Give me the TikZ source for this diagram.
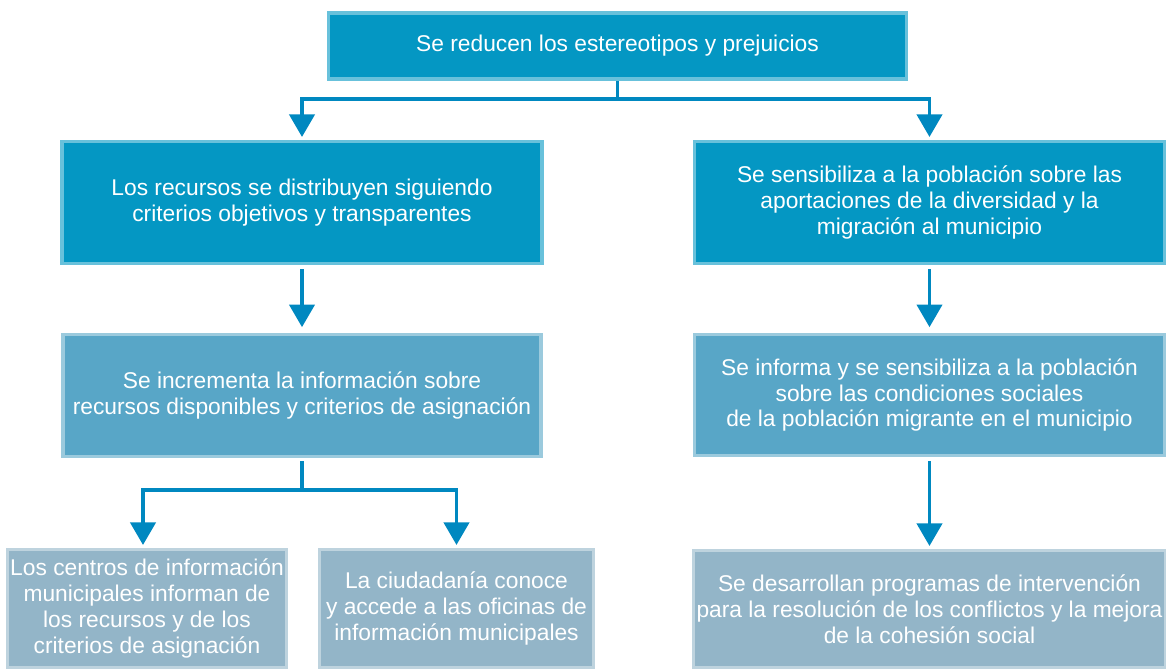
\documentclass[tikz,border=0pt]{standalone}
\usepackage{xcolor}
\usepackage{fontspec}
\setmainfont{Liberation Sans}
\usepackage{tikz}
\usetikzlibrary{positioning,arrows.meta}

\definecolor{boxdark}{HTML}{0497C3}
\definecolor{boxmid}{HTML}{58A6C7}
\definecolor{boxlight}{HTML}{93B5C8}
\definecolor{flowblue}{HTML}{0088C0}

\begin{document}
\begin{tikzpicture}[
				x=0.025cm, y=-0.025cm,
				darknode/.style={rectangle, fill=boxdark, draw=boxdark!60!white, line width=2.5pt, inner sep=2pt, text=white, align=center, font=\fontsize{16.2}{18.4}\selectfont},
				midnode/.style={darknode, fill=boxmid, draw=boxmid!60!white},
				lightnode/.style={darknode, fill=boxlight, draw=boxlight!60!white},
				flow/.style={draw=flowblue, line width=2.2pt, -{Triangle[width=18pt,length=16pt]}, shorten >=2pt},
				]
				\useasboundingbox (0,0) rectangle (1166,669);
				%Nodes
				\node[darknode, minimum width=578*0.025cm, minimum height=66*0.025cm](goal) at (617.5,46){Se reducen los estereotipos y prejuicios};
				\node[darknode, minimum width=480*0.025cm, minimum height=122*0.025cm](res) at (302,202.5){Los recursos se distribuyen siguiendo\\criterios objetivos y transparentes};
				\node[darknode, minimum width=470*0.025cm, minimum height=122*0.025cm](sens) at (929.5,202.5){Se sensibiliza a la población sobre las\\aportaciones de la diversidad y la\\migración al municipio};
				\node[midnode, minimum width=478*0.025cm, minimum height=122*0.025cm](info) at (302,395.5){Se incrementa la información sobre\\recursos disponibles y criterios de asignación};
				\node[midnode, minimum width=470*0.025cm, minimum height=121*0.025cm](cond) at (929.5,395){Se informa y se sensibiliza a la población\\sobre las condiciones sociales\\de la población migrante en el municipio};
				\node[lightnode, minimum width=277*0.025cm, minimum height=118*0.025cm](centros) at (147,608.5){Los centros de información\\municipales informan de\\los recursos y de los\\criterios de asignación};
				\node[lightnode, minimum width=274*0.025cm, minimum height=118*0.025cm](ciudad) at (456.5,608.5){La ciudadanía conoce\\y accede a las oficinas de\\información municipales};
				\node[lightnode, minimum width=470*0.025cm, minimum height=117*0.025cm](prog) at (929.5,609){Se desarrollan programas de intervención\\para la resolución de los conflictos y la mejora\\de la cohesión social};
				
				%Lines
				\coordinate (split1) at (617.5,99);
				\coordinate (split2) at (302,490);
				
				\draw[flow] (goal.south) -- (split1) -| (res.north);
				\draw[flow] (goal.south) -- (split1) -| (sens.north);
				\draw[flow] ([yshift=-3pt]res.south) -- ([yshift=2pt]info.north);
				\draw[flow] ([yshift=-3pt]sens.south) -- ([yshift=2pt]cond.north);
				\draw[flow] ([yshift=-2pt]info.south) -- (split2) -| ([xshift=-4*0.025cm]centros.north);
				\draw[flow] ([yshift=-2pt]info.south) -- (split2) -| (ciudad.north);
				\draw[flow] ([yshift=-3pt]cond.south) -- (prog.north);
				
			\end{tikzpicture}
\end{document}
